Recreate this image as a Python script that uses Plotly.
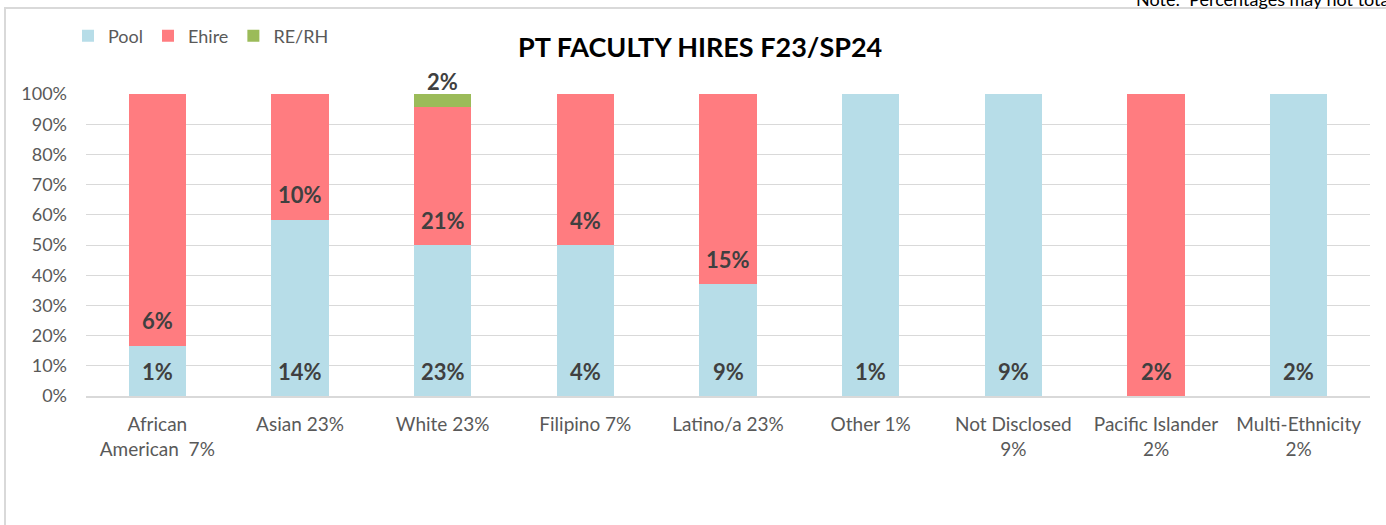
import plotly.graph_objects as go

categories = ["African<br>American  7%", "Asian 23%", "White 23%", "Filipino 7%",
              "Latino/a 23%", "Other 1%", "Not Disclosed<br>9%",
              "Pacific Islander<br>2%", "Multi-Ethnicity<br>2%"]
# segment heights (share of each bar, %)
pool_share = [16.7, 58.3, 50.0, 50.0, 37.0, 100, 100, 0, 100]
ehire_share = [83.3, 41.7, 45.7, 50.0, 63.0, 0, 0, 100, 0]
rerh_share = [0, 0, 4.3, 0, 0, 0, 0, 0, 0]
# data labels shown on segments (share of all hires)
pool_labels = ["1%", "14%", "23%", "4%", "9%", "1%", "9%", "", "2%"]
ehire_labels = ["6%", "10%", "21%", "4%", "15%", "", "", "2%", ""]
rerh_labels = ["", "", "2%", "", "", "", "", "", ""]
y_ticks = [0, 10, 20, 30, 40, 50, 60, 70, 80, 90, 100]

colors = {"Pool": "#B7DDE8", "Ehire": "#FF7C80", "RE/RH": "#9BBB59"}
FONT = "Lato, 'Open Sans', sans-serif"

W, H = 1386, 525
L, R, T, B = 86, 16, 94, 129
pw, ph = W - L - R, H - T - B

fig = go.Figure()
series = [("Pool", pool_share, pool_labels),
          ("Ehire", ehire_share, ehire_labels),
          ("RE/RH", rerh_share, rerh_labels)]
for name, vals, _ in series:
    fig.add_trace(go.Bar(name=name, x=categories, y=vals,
                         marker=dict(color=colors[name], line=dict(width=0)),
                         hoverinfo="skip"))

# labels near the base of each segment
annotations = []
base = [0.0] * len(categories)
for name, vals, labs in series:
    for i, (v, t) in enumerate(zip(vals, labs)):
        if t:
            annotations.append(dict(x=categories[i], y=base[i], xref="x", yref="y",
                                    text="<b>" + t + "</b>", showarrow=False,
                                    yanchor="middle", yshift=25,
                                    font=dict(family=FONT, size=22, color="#404040")))
        base[i] += v

annotations.append(dict(x=(700 - L) / pw, y=(H - B - 47) / ph, xref="paper", yref="paper",
                        text="<b>PT FACULTY HIRES F23/SP24</b>", showarrow=False,
                        xanchor="center", yanchor="middle",
                        font=dict(family=FONT, size=27, color="#000000")))
annotations.append(dict(x=(1134 - L) / pw, y=(H - B - 12) / ph, xref="paper", yref="paper",
                        text="Note:  Percentages may not total 100% due to rounding",
                        showarrow=False, xanchor="left", yanchor="bottom",
                        font=dict(family=FONT, size=18, color="#000000")))

shapes = [dict(type="rect", xref="paper", yref="paper",
               x0=(5 - L) / pw, x1=(1400 - L) / pw,
               y0=(H - B - 540) / ph, y1=(H - B - 8) / ph,
               line=dict(color="#D9D9D9", width=2), fillcolor="rgba(0,0,0,0)", layer="below")]

fig.update_layout(
    width=W, height=H,
    barmode="stack", bargap=0.6,
    margin=dict(l=L, r=R, t=T, b=B, autoexpand=False),
    paper_bgcolor="white", plot_bgcolor="white",
    font=dict(family=FONT, size=18, color="#595959"),
    legend=dict(orientation="h", x=(68 - L) / pw, y=(H - B - 36) / ph,
                xanchor="left", yanchor="middle", traceorder="normal",
                font=dict(family=FONT, size=18, color="#595959"),
                itemwidth=30, bgcolor="rgba(0,0,0,0)"),
    annotations=annotations, shapes=shapes,
    showlegend=True,
)
fig.update_yaxes(range=[0, 100], tickvals=y_ticks,
                 ticktext=[f"{v}%" for v in y_ticks],
                 showgrid=True, gridcolor="#D9D9D9", gridwidth=1,
                 zeroline=False, showline=False, ticks="", ticklabelstandoff=18,
                 tickfont=dict(family=FONT, size=18, color="#595959"))
fig.update_xaxes(showline=True, linecolor="#D9D9D9", linewidth=2,
                 ticks="", ticklabelstandoff=10,
                 tickfont=dict(family=FONT, size=19, color="#595959"))

fig.write_html("out.html", config={"displayModeBar": False},
               post_script="document.body.style.margin='0px';")
